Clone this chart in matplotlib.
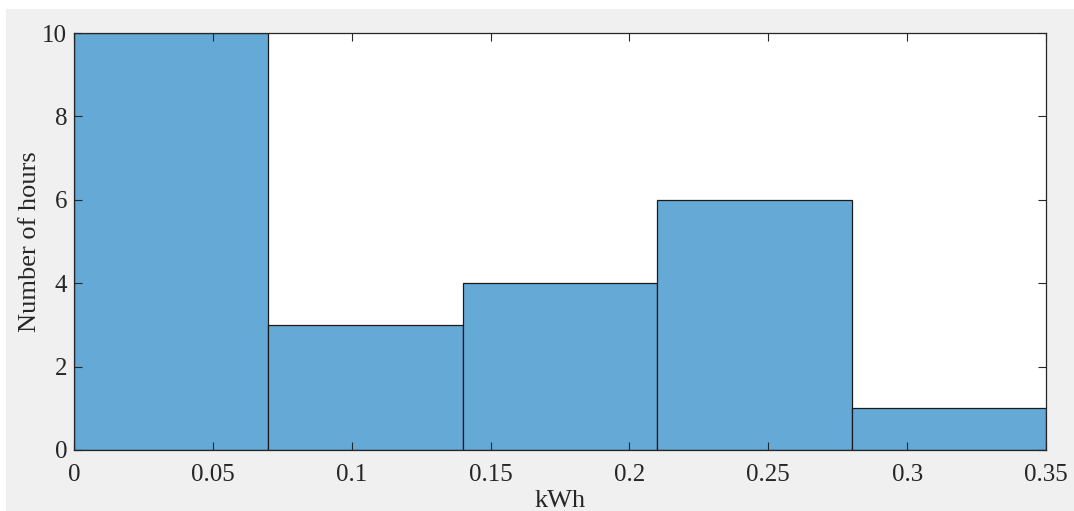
import numpy as np
import matplotlib.pyplot as plt
from matplotlib.patches import Rectangle

plt.rcParams["font.family"] = "serif"
plt.rcParams["font.serif"] = ["Liberation Serif", "DejaVu Serif"]

# histogram bins (kWh) and counts
bin_edges = [0, 0.07, 0.14, 0.21, 0.28, 0.35]
counts = [10, 3, 4, 6, 1]
x_ticks = [0, 0.05, 0.1, 0.15, 0.2, 0.25, 0.3, 0.35]
x_labels = ["0", "0.05", "0.1", "0.15", "0.2", "0.25", "0.3", "0.35"]
y_ticks = [0, 2, 4, 6, 8, 10]

fig = plt.figure(figsize=(10.74, 5.11), dpi=100, facecolor="white")
fig.patches.append(Rectangle((6 / 1074, 0), 1, 1 - 9 / 511,
                             transform=fig.transFigure, facecolor="#f0f0f0",
                             edgecolor="none", zorder=-10))
ax = fig.add_axes([74 / 1074, 1 - 450 / 511, (1046 - 74) / 1074, (450 - 33) / 511])

widths = np.diff(bin_edges)
ax.bar(bin_edges[:-1], counts, width=widths, align="edge",
       color="#65a9d7", edgecolor="#1a1a1a", linewidth=0.9, zorder=1)

ax.set_xlim(0, 0.35)
ax.set_ylim(0, 10)
ax.set_xticks(x_ticks)
ax.set_xticklabels(x_labels)
ax.set_yticks(y_ticks)
ax.tick_params(direction="in", top=True, right=True, length=6, width=0.8,
               colors="#262626", labelsize=18)
ax.tick_params(axis="x", pad=10)
ax.tick_params(axis="y", pad=5)
for lbl in ax.get_xticklabels() + ax.get_yticklabels():
    lbl.set_color("#262626")
for sp in ax.spines.values():
    sp.set_color("#262626")
    sp.set_linewidth(0.9)
    sp.set_zorder(3)

ax.set_xlabel("kWh", fontsize=19, color="#262626", labelpad=3)
ax.set_ylabel("Number of hours", fontsize=19, color="#262626", labelpad=1)

fig.savefig("out.png", dpi=100, facecolor=fig.get_facecolor())
